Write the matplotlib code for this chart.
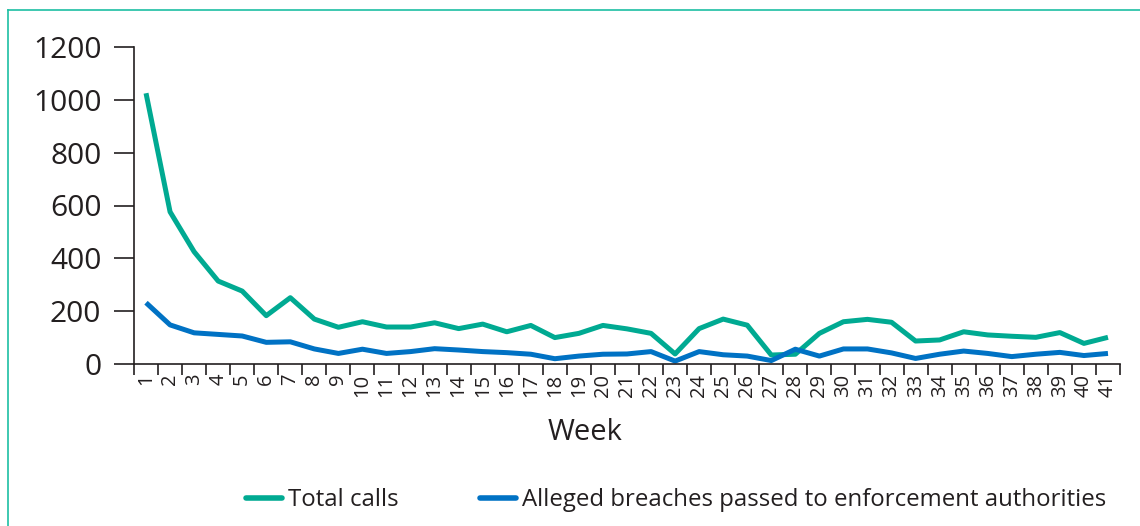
import matplotlib
matplotlib.use("Agg")
import matplotlib.pyplot as plt
from matplotlib.lines import Line2D

weeks = list(range(1, 42))
total_calls = [1025, 576, 425, 314, 276, 183, 251, 170, 139, 160,
               140, 140, 156, 134, 151, 122, 146, 100, 116, 146,
               133, 116, 38, 134, 170, 147, 34, 37, 116, 160,
               169, 158, 87, 91, 122, 110, 105, 101, 119, 78, 101]
alleged_breaches = [232, 148, 118, 112, 106, 82, 84, 57, 40, 56,
                    40, 47, 58, 53, 47, 43, 37, 20, 30, 37,
                    38, 47, 11, 47, 35, 30, 13, 56, 30, 57,
                    57, 42, 21, 37, 49, 40, 28, 37, 44, 32, 40]
y_ticks = [0, 200, 400, 600, 800, 1000, 1200]
series_names = ["Total calls", "Alleged breaches passed to enforcement authorities"]

GREEN = "#00AA92"
BLUE = "#0072C4"
DARK = "#231F20"
FONT = ["Open Sans", "DejaVu Sans"]

plt.rcParams["font.family"] = FONT

W, H = 1140, 526
fig = plt.figure(figsize=(W / 100, H / 100), dpi=100)
ax = fig.add_axes([134 / W, 1 - 364 / H, (1120 - 134) / W, (364 - 47) / H])

ax.plot(weeks, total_calls, color=GREEN, lw=3.6, solid_joinstyle="round", solid_capstyle="butt", clip_on=False)
ax.plot(weeks, alleged_breaches, color=BLUE, lw=3.6, solid_joinstyle="round", solid_capstyle="butt", clip_on=False)

ax.set_xlim(0.5, 41.5)
ax.set_ylim(0, 1200)
ax.set_yticks(y_ticks)
ax.set_yticklabels([str(v) for v in y_ticks], fontsize=21.5, color=DARK)

ax.set_xticks([w - 0.5 for w in weeks] + [41.5])
ax.set_xticklabels([])
ax.set_xticks(weeks, minor=True)
ax.set_xticklabels([str(w) for w in weeks], minor=True, rotation=90, fontsize=14.5, color=DARK)
ax.tick_params(axis="x", which="major", length=8, width=1.2, color=DARK, direction="out")
ax.tick_params(axis="x", which="minor", length=0, pad=7)
ax.tick_params(axis="y", which="major", length=14.5, width=1.2, color=DARK, pad=9)

for s in ["top", "right"]:
    ax.spines[s].set_visible(False)
for s in ["left", "bottom"]:
    ax.spines[s].set_color(DARK)
    ax.spines[s].set_linewidth(1.2)

ax.set_xlabel("Week", fontsize=21, color=DARK)
ax.xaxis.set_label_coords((585 - 134) / (1120 - 134), -(432 - 364) / (364 - 47))
ax.xaxis.label.set_verticalalignment("center")

handles = [Line2D([0], [0], color=GREEN, lw=4, solid_capstyle="round"),
           Line2D([0], [0], color=BLUE, lw=4, solid_capstyle="round")]
leg = fig.legend(handles, series_names, loc="center", bbox_to_anchor=(676 / W, 1 - 500 / H),
                 ncol=2, frameon=False, fontsize=17.3, handlelength=1.5, handletextpad=0.25,
                 columnspacing=3.4)
for t in leg.get_texts():
    t.set_color(DARK)

# teal frame
fig.add_artist(Line2D([8 / W, 1.0], [1 - 10 / H, 1 - 10 / H], color="#1DBFA3", lw=1.2, transform=fig.transFigure))
fig.add_artist(Line2D([8 / W, 8 / W], [0, 1 - 10 / H], color="#1DBFA3", lw=1.2, transform=fig.transFigure))

fig.savefig("out.png", dpi=100)
